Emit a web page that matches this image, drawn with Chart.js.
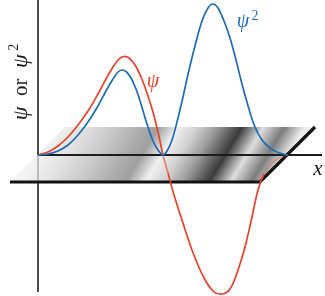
<!DOCTYPE html>
<html>
<head>
<meta charset="utf-8">
<script src="https://cdn.jsdelivr.net/npm/chart.js@4/dist/chart.umd.min.js"></script>
<style>
  html, body { margin: 0; padding: 0; background: #fff; }
  #wrap { width: 325px; height: 296px; position: relative; }
</style>
</head>
<body>
<div id="wrap"><canvas id="wave"></canvas></div>
<script>
// wavefunction psi (red) and probability density psi^2 (blue)
const psiX = [0, 0.4, 0.8, 1.2, 1.6, 2.0, 2.4, 2.72, 3.0, 3.24, 3.44, 3.64, 3.88, 4.12, 4.36, 4.6, 4.8, 5.0, 5.2, 5.44, 5.76, 6.16, 6.6, 7.0, 7.36, 7.68, 8.0, 8.28, 8.56, 8.8, 9.04, 9.32, 9.64, 10.0];
const psiY = [0, 0.12, 0.36, 0.72, 1.2, 1.76, 2.44, 3.04, 3.52, 3.84, 3.94, 3.88, 3.6, 3.12, 2.48, 1.72, 0.92, 0, -0.72, -1.6, -2.6, -3.8, -4.84, -5.44, -5.56, -5.36, -4.6, -3.68, -2.48, -1.4, -0.76, -0.36, -0.12, 0];

const psi2X = [0, 0.4, 0.8, 1.2, 1.6, 2.0, 2.4, 2.72, 3.0, 3.2, 3.36, 3.52, 3.72, 3.92, 4.12, 4.36, 4.6, 4.8, 5.0, 5.16, 5.36, 5.56, 5.8, 6.04, 6.32, 6.56, 6.8, 7.0, 7.2, 7.44, 7.68, 7.92, 8.16, 8.44, 8.68, 8.96, 9.28, 9.6, 10.0];
const psi2Y = [0, 0.04, 0.16, 0.4, 0.8, 1.32, 1.96, 2.56, 3.04, 3.32, 3.4, 3.34, 3.08, 2.64, 2.04, 1.24, 0.56, 0.2, 0, 0.16, 0.6, 1.32, 2.32, 3.4, 4.52, 5.36, 5.88, 6.04, 5.88, 5.36, 4.68, 3.8, 2.84, 1.84, 1.12, 0.6, 0.28, 0.1, 0];

// the shaded plane (parallelogram) and its front edges
const planeX = [1.08, 11.08, 8.88, -1.12, 1.08];
const planeY = [1.12, 1.12, -1.08, -1.08, 1.12];
const edgeX = [-1.12, 8.88, 11.08];
const edgeY = [-1.08, -1.08, 1.12];

// axes
const xAxisX = [0, 11.36];
const xAxisY = [0, 0];
const yAxisX = [0, 0, 0, 0];
const yAxisY = [6.2, 0, -1.08, -5.48];

const RED = '#e5432b';
const BLUE = '#1f6cb3';

const pts = (xs, ys) => xs.map((v, i) => ({ x: v, y: ys[i] }));

// metallic banded gradient across the plane (bands lean like the right edge)
let planeGrad = null;
function planeFill(c) {
  const chart = c.chart;
  if (!chart.chartArea) return '#ccc';
  if (planeGrad) return planeGrad;
  const sx = chart.scales.x, sy = chart.scales.y;
  const x0 = sx.getPixelForValue(sx.min), y0 = sy.getPixelForValue(0);
  const g = chart.ctx.createLinearGradient(x0, y0, x0 + 235, y0 + 141);
  g.addColorStop(0.00, '#fafafa');
  g.addColorStop(0.12, '#f2f2f2');
  g.addColorStop(0.20, '#e4e4e4');
  g.addColorStop(0.31, '#c8c8c8');
  g.addColorStop(0.39, '#adadad');
  g.addColorStop(0.444, '#a0a0a0');
  g.addColorStop(0.506, '#f0f0f0');
  g.addColorStop(0.5625, '#d2d2d2');
  g.addColorStop(0.625, '#9c9c9c');
  g.addColorStop(0.672, '#626262');
  g.addColorStop(0.705, '#3c3c3c');
  g.addColorStop(0.772, '#dedede');
  g.addColorStop(0.8375, '#7c7c7c');
  g.addColorStop(0.90, '#eaeaea');
  g.addColorStop(1.00, '#ffffff');
  planeGrad = g;
  return g;
}

// text labels
const labelPlugin = {
  id: 'labels',
  afterDatasetsDraw(chart) {
    const { ctx } = chart;
    const sx = chart.scales.x, sy = chart.scales.y;
    ctx.save();
    ctx.textBaseline = 'alphabetic';

    // psi next to the red curve
    ctx.fillStyle = RED;
    ctx.font = 'italic 20px "Liberation Serif"';
    ctx.textAlign = 'center';
    ctx.fillText('ψ', sx.getPixelForValue(4.6), sy.getPixelForValue(2.72));

    // psi^2 next to the blue peak
    ctx.fillStyle = BLUE;
    ctx.fillText('ψ', sx.getPixelForValue(8.2), sy.getPixelForValue(5.14));
    ctx.font = '14px "Liberation Serif"';
    ctx.fillText('2', sx.getPixelForValue(8.68), sy.getPixelForValue(5.4));

    // x axis name
    ctx.fillStyle = '#1a1a1a';
    ctx.font = 'italic 21px "Liberation Serif"';
    ctx.fillText('x', sx.getPixelForValue(11.2), sy.getPixelForValue(-0.8));

    // vertical axis name, rotated
    ctx.translate(sx.getPixelForValue(-0.74), sy.getPixelForValue(2.92));
    ctx.rotate(-Math.PI / 2);
    ctx.textAlign = 'left';
    const parts = [
      ['ψ', 'italic 22px "Liberation Serif"', 0],
      ['  or  ', '21px "Liberation Serif"', 0],
      ['ψ', 'italic 22px "Liberation Serif"', 0],
      [' 2', '14px "Liberation Serif"', -9]
    ];
    let w = 0;
    parts.forEach(p => { ctx.font = p[1]; w += ctx.measureText(p[0]).width; });
    let cx = -w / 2;
    parts.forEach(p => {
      ctx.font = p[1];
      ctx.fillText(p[0], cx, 7 + p[2]);
      cx += ctx.measureText(p[0]).width;
    });
    ctx.restore();
  }
};

new Chart(document.getElementById('wave'), {
  type: 'line',
  data: {
    datasets: [
      {
        data: pts(psi2X, psi2Y),
        borderColor: BLUE,
        borderWidth: 1.7,
        pointRadius: 0,
        tension: 0.35,
        order: 1
      },
      {
        data: pts(psiX, psiY),
        borderColor: RED,
        borderWidth: 1.7,
        pointRadius: 0,
        tension: 0.35,
        segment: {
          borderColor: c => {
            const a = c.p0.parsed.y, b = c.p1.parsed.y;
            if (a <= 0 && b <= 0 && a >= -1.1 && b >= -1.1) {
              return c.p0.parsed.x > 7 ? 'rgba(229,67,43,0.28)' : 'rgba(229,67,43,0.6)';
            }
            return undefined;
          }
        },
        order: 2
      },
      {
        data: pts(xAxisX, xAxisY),
        borderColor: '#1c1c1c',
        borderWidth: 1.8,
        pointRadius: 0,
        order: 3
      },
      {
        data: pts(edgeX, edgeY),
        borderColor: '#111',
        borderWidth: 3.2,
        pointRadius: 0,
        order: 4
      },
      {
        data: pts(yAxisX, yAxisY),
        borderColor: '#3a3a3a',
        borderWidth: 1.8,
        pointRadius: 0,
        segment: {
          borderColor: c => (c.p0.parsed.y === 0 ? 'rgba(120,120,120,0.45)' : undefined)
        },
        order: 5
      },
      {
        data: pts(planeX, planeY),
        borderWidth: 0,
        borderColor: 'rgba(0,0,0,0)',
        backgroundColor: planeFill,
        fill: 'shape',
        pointRadius: 0,
        order: 6
      }
    ]
  },
  options: {
    responsive: true,
    maintainAspectRatio: false,
    animation: false,
    layout: { padding: 0 },
    scales: {
      x: { type: 'linear', min: -1.52, max: 11.48, display: false },
      y: { type: 'linear', min: -5.64, max: 6.2, display: false }
    },
    plugins: {
      legend: { display: false },
      tooltip: { enabled: false },
      title: { display: false }
    }
  },
  plugins: [labelPlugin]
});
</script>
</body>
</html>
